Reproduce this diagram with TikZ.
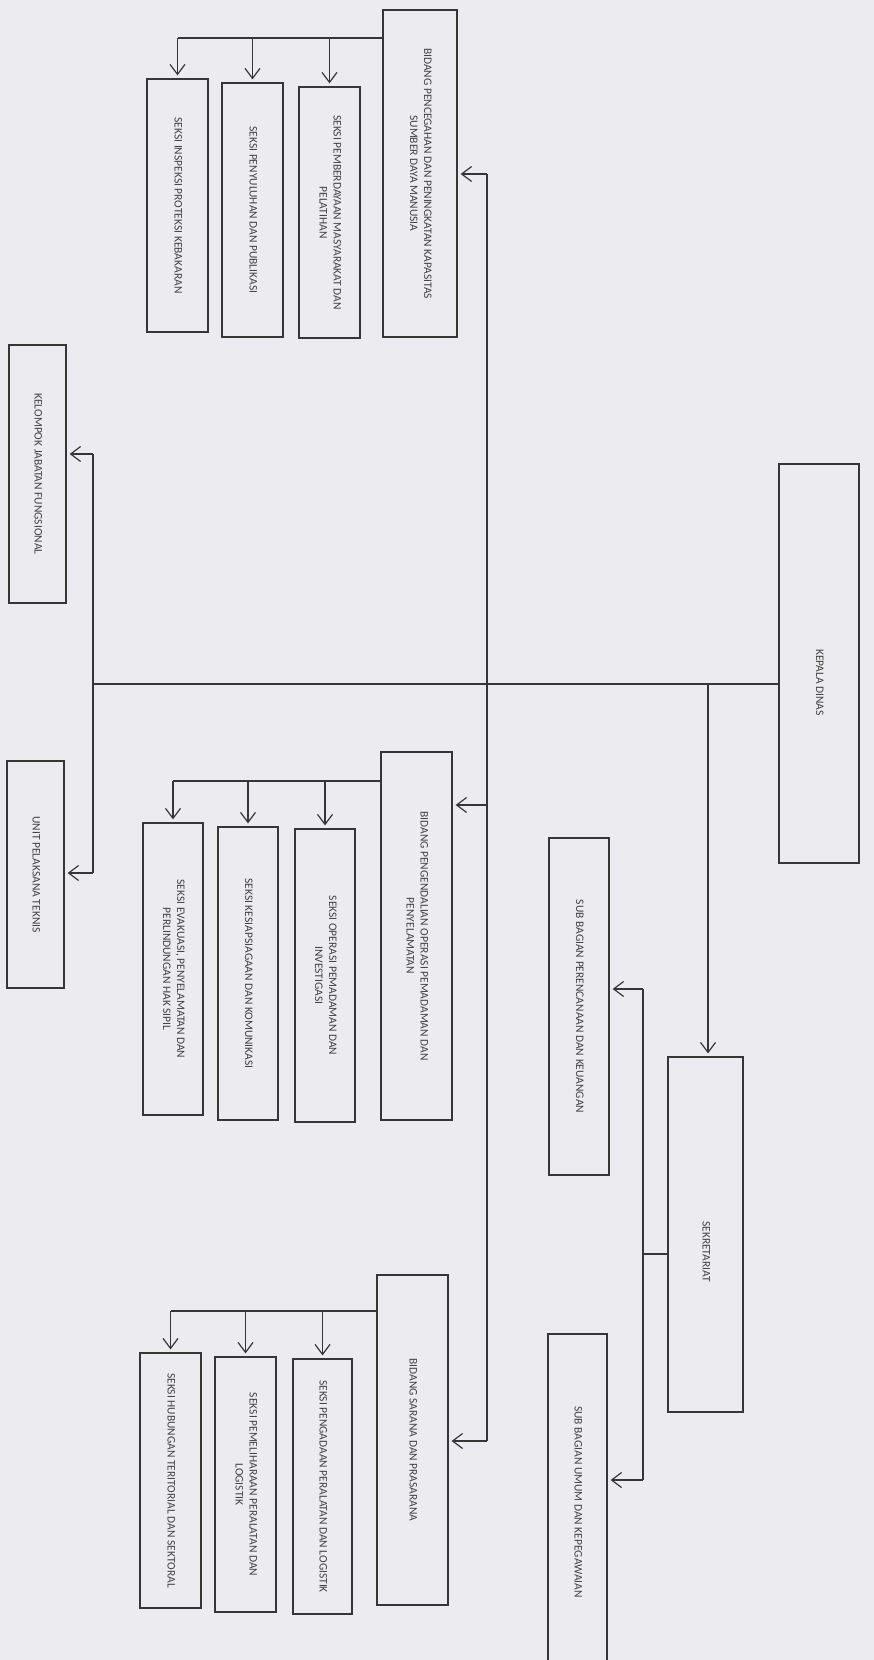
\documentclass[tikz,border=0pt]{standalone}
\usepackage{fontspec}
\setmainfont{Carlito}
\usepackage{graphicx}
\usetikzlibrary{arrows.meta,calc}
\definecolor{paper}{HTML}{ECEBF0}
\definecolor{inkline}{HTML}{363636}
\definecolor{inktext}{HTML}{404040}
\newcommand{\vlabel}[1]{\rotatebox{-90}{\begin{tabular}{@{}c@{}}#1\end{tabular}}}

\tikzset{
  orgbox/.style={draw=inkline,line width=1.2pt,inner sep=0pt,text=inktext,
    font=\fontsize{11.5}{14}\selectfont},
  boxsize/.style 2 args={minimum width=#1,minimum height=#2},
  link/.style={draw=inkline,line width=1.2pt},
  arr/.style={link,-{Straight Barb[length=10pt,width=15pt]},shorten >=3pt}
}

\begin{document}
\begin{tikzpicture}[x=1pt,y=-1pt]
    \useasboundingbox (0,0) rectangle (874,1660);
    \clip (0,0) rectangle (874,1660);
    \fill[paper] (0,0) rectangle (874,1660);

    % head and secretariat
    \node[orgbox,boxsize={80}{399}] (kepala) at (819,663.5) {\vlabel{\hspace*{38pt}KEPALA DINAS}};
    \node[orgbox,boxsize={75}{355}] (sekre) at (705.5,1234.5) {\vlabel{\hspace*{34pt}SEKRETARIAT}};
    \node[orgbox,boxsize={60}{337}] (subren) at (579,1006.5) {\vlabel{SUB BAGIAN PERENCANAAN DAN KEUANGAN}};
    \node[orgbox,boxsize={59}{336}] (subumum) at (577.5,1502) {\vlabel{SUB BAGIAN UMUM DAN KEPEGAWAIAN}};

    % bidang pencegahan
    \node[orgbox,boxsize={74}{327}] (bidcegah) at (420,173.5)
      {\vlabel{BIDANG PENCEGAHAN DAN PENINGKATAN KAPASITAS\\SUMBER DAYA MANUSIA}};
    \node[orgbox,boxsize={61}{251}] (skberdaya) at (329.5,212.5)
      {\vlabel{SEKSI PEMBERDAYAAN MASYARAKAT DAN\\PELATIHAN}};
    \node[orgbox,boxsize={61}{254}] (sksuluh) at (252.5,210) {\vlabel{SEKSI PENYULUHAN DAN PUBLIKASI}};
    \node[orgbox,boxsize={61}{253}] (skinspeksi) at (177.5,205.5) {\vlabel{SEKSI INSPEKSI PROTEKSI KEBAKARAN}};

    % bidang pengendalian
    \node[orgbox,boxsize={71}{368}] (bidkendali) at (416.5,936)
      {\vlabel{BIDANG PENGENDALIAN OPERASI PEMADAMAN DAN\\PENYELAMATAN}};
    \node[orgbox,boxsize={60}{293}] (skoperasi) at (325,975.5)
      {\vlabel{SEKSI OPERASI PEMADAMAN DAN\\INVESTIGASI}};
    \node[orgbox,boxsize={60}{293}] (sksiaga) at (248,973.5) {\vlabel{SEKSI KESIAPSIAGAAN DAN KOMUNIKASI}};
    \node[orgbox,boxsize={60}{292}] (skevakuasi) at (173,969)
      {\vlabel{SEKSI EVAKUASI, PENYELAMATAN DAN\\PERLINDUNGAN HAK SIPIL}};

    % bidang sarana
    \node[orgbox,boxsize={71}{330}] (bidsarana) at (412.5,1440) {\vlabel{BIDANG SARANA DAN PRASARANA}};
    \node[orgbox,boxsize={59}{255}] (skadaan) at (322.5,1486.5) {\vlabel{SEKSI PENGADAAN PERALATAN DAN LOGISTIK}};
    \node[orgbox,boxsize={61}{255}] (skpelihara) at (245.5,1484.5)
      {\vlabel{SEKSI PEMELIHARAAN PERALATAN DAN\\LOGISTIK}};
    \node[orgbox,boxsize={61}{255}] (skhubungan) at (170.5,1480.5) {\vlabel{SEKSI HUBUNGAN TERITORIAL DAN SEKTORAL}};

    % left column
    \node[orgbox,boxsize={57}{258}] (kelompok) at (37.5,474) {\vlabel{KELOMPOK JABATAN FUNGSIONAL}};
    \node[orgbox,boxsize={57}{227}] (upt) at (35.5,874.5) {\vlabel{UNIT PELAKSANA TEKNIS}};

    % main line
    \coordinate (jleft) at (93,684);
    \coordinate (jsek) at (708,684);
    \draw[link] (jleft) -- (kepala.west |- jleft);
    \draw[arr] (jsek) -- (jsek |- sekre.north);

    \coordinate (lkel) at (93,454);
    \coordinate (lupt) at (93,873);
    \draw[link] (lkel) -- (lupt);
    \draw[arr] (lkel) -- (kelompok.east |- lkel);
    \draw[arr] (lupt) -- (upt.east |- lupt);

    % trunk to the bidang
    \coordinate (tcegah) at (487,174);
    \coordinate (tkendali) at (487,805);
    \coordinate (tsarana) at (487,1441);
    \draw[link] (tcegah) -- (tsarana);
    \foreach \b/\t in {bidcegah/tcegah,bidkendali/tkendali,bidsarana/tsarana}
      \draw[arr] (\t) -- (\b.east |- \t);

    % sekretariat to sub bagian
    \coordinate (ssek) at (643,1254);
    \coordinate (sren) at (643,989);
    \coordinate (sumum) at (643,1480);
    \draw[link] (sekre.west |- ssek) -- (ssek);
    \draw[link] (sren) -- (sumum);
    \draw[arr] (sren) -- (subren.east |- sren);
    \draw[arr] (sumum) -- (subumum.east |- sumum);

    % bidang to seksi
    \coordinate (bcegah) at (0,38);
    \coordinate (bkendali) at (0,781);
    \coordinate (bsarana) at (0,1311);
    \draw[link] (bidcegah.west |- bcegah) -- (bcegah -| skinspeksi.north);
    \draw[link] (bidkendali.west |- bkendali) -- (bkendali -| skevakuasi.north);
    \draw[link] (bidsarana.west |- bsarana) -- (bsarana -| skhubungan.north);
    \foreach \s in {skberdaya,sksuluh,skinspeksi}
      \draw[arr] (bcegah -| \s.north) -- (\s.north);
    \foreach \s in {skoperasi,sksiaga,skevakuasi}
      \draw[arr] (bkendali -| \s.north) -- (\s.north);
    \foreach \s in {skadaan,skpelihara,skhubungan}
      \draw[arr] (bsarana -| \s.north) -- (\s.north);
\end{tikzpicture}
\end{document}
